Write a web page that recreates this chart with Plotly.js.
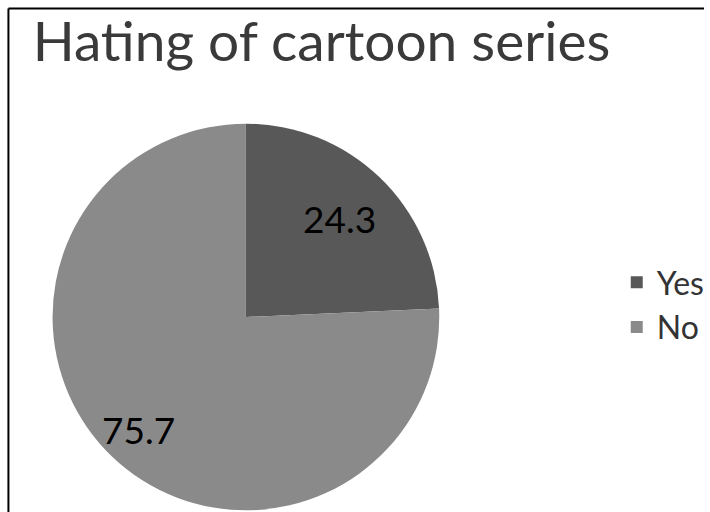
<!DOCTYPE html>
<html>
<head>
<meta charset="utf-8">
<script src="https://cdn.plot.ly/plotly-3.0.1.min.js"></script>
<style>
html,body{margin:0;padding:0;background:#fff;}
#chart{width:710px;height:512px;}
</style>
</head>
<body>
<div id="chart"></div>
<script>
const categories = ["Yes", "No"];
const values = [24.3, 75.7];
const sliceColors = ["#585858", "#8a8a8a"];
const chartTitle = "Hating of cartoon series";

const FONT = "Lato, 'Open Sans', sans-serif";
const W = 710, H = 512;
const pieLeft = 53, pieRight = 443, pieTop = 122, pieBottom = 512;
const labelRadius = [0.70, 0.80]; // style: radial position of data labels

const trace = {
  type: "pie",
  labels: categories,
  values: values,
  textinfo: "none",
  marker: {colors: sliceColors, line: {width: 0}},
  sort: false,
  direction: "clockwise",
  rotation: 0,
  hoverinfo: "none",
  domain: {x: [pieLeft / W, pieRight / W], y: [1 - pieBottom / H, 1 - pieTop / H]}
};

// data labels positioned from the slice angles
const total = values.reduce((a, b) => a + b, 0);
const cx = (pieLeft + pieRight) / 2, cy = (pieTop + pieBottom) / 2, R = (pieRight - pieLeft) / 2;
let cum = 0;
const annotations = values.map((v, i) => {
  const mid = (cum + v / 2) / total * 2 * Math.PI;
  cum += v;
  const px = cx + labelRadius[i] * R * Math.sin(mid);
  const py = cy - labelRadius[i] * R * Math.cos(mid);
  return {
    text: v.toFixed(1), showarrow: false,
    xref: "paper", yref: "paper", x: px / W, y: 1 - py / H,
    xanchor: "center", yanchor: "middle",
    font: {family: FONT, size: 37, color: "#000"}
  };
});

const layout = {
  width: W, height: H,
  margin: {l: 0, r: 0, t: 0, b: 0},
  paper_bgcolor: "#fff",
  title: {
    text: chartTitle,
    font: {family: FONT, size: 55, color: "#3a3a3a"},
    x: 33 / W, xanchor: "left", xref: "paper",
    y: 1 - 42 / H, yanchor: "middle", yref: "paper"
  },
  showlegend: true,
  legend: {
    x: 622 / W, y: 1 - 305 / H, xanchor: "left", yanchor: "middle",
    font: {family: FONT, size: 32, color: "#333"},
    itemsizing: "constant"
  },
  annotations: annotations,
  shapes: [
    {type: "line", xref: "paper", yref: "paper", x0: 8.5 / W, x1: 8.5 / W, y0: 0, y1: 1 - 8.5 / H, line: {color: "#000", width: 2}},
    {type: "line", xref: "paper", yref: "paper", x0: 8.5 / W, x1: 1, y0: 1 - 8.5 / H, y1: 1 - 8.5 / H, line: {color: "#000", width: 2}}
  ]
};

Plotly.newPlot("chart", [trace], layout, {displayModeBar: false, staticPlot: true});
</script>
</body>
</html>
